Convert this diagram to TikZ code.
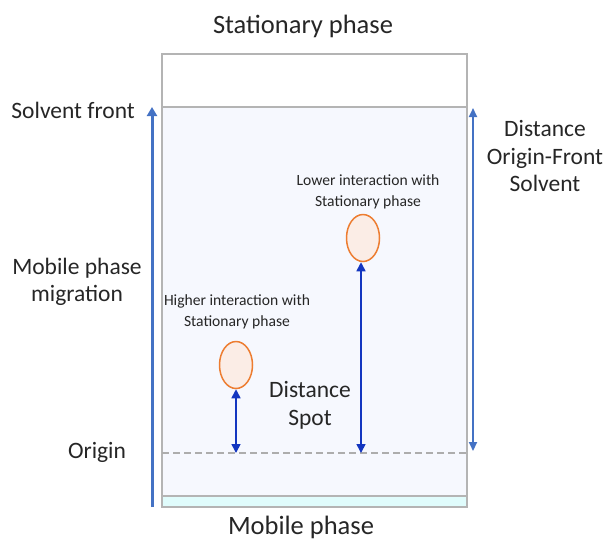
\documentclass[tikz,border=0pt]{standalone}
\usepackage{fontspec}
\setmainfont{Carlito}
\usetikzlibrary{arrows.meta,shapes.geometric}
\definecolor{boxgray}{HTML}{B4B4B4}
\definecolor{dashgray}{HTML}{ADADAD}
\definecolor{paleblue}{HTML}{F6F8FE}
\definecolor{palecyan}{HTML}{E0FCFC}
\definecolor{arrblue}{HTML}{4472C4}
\definecolor{darkblue}{HTML}{1336C0}
\definecolor{spotorange}{HTML}{ED7D31}
\definecolor{spotfill}{HTML}{FBEDE6}
\tikzset{
  biglabel/.style={font=\fontsize{23.5}{27.6}\selectfont, align=center, text=black!85, inner sep=0pt},
  toplabel/.style={font=\fontsize{26.5}{30}\selectfont, align=center, text=black!85, inner sep=0pt},
  smalllabel/.style={font=\fontsize{15.6}{20.5}\selectfont, align=center, text=black!85, inner sep=0pt},
  spot/.style={ellipse, draw=spotorange, fill=spotfill, line width=1.5pt, minimum width=33pt, minimum height=47pt, inner sep=0pt},
  migarrow/.style={draw=arrblue, line width=3pt, -{Triangle[length=9pt,width=10pt]}},
  distarrow/.style={draw=arrblue, line width=2pt, {Triangle[length=9pt,width=8pt]}-{Triangle[length=9pt,width=8pt]}},
  spotarrow/.style={draw=darkblue, line width=1.6pt, {Triangle[length=9pt,width=9pt]}-{Triangle[length=9pt,width=9pt]}}
}
\begin{document}
\begin{tikzpicture}[x=1pt,y=-1pt]
\useasboundingbox (0,0) rectangle (607,542);
% plate
\fill[paleblue] (162,107) rectangle (467,496);
\fill[palecyan] (162,496) rectangle (467,507);
\draw[boxgray, line width=1.3pt] (162,496) -- (467,496);
\draw[boxgray, line width=1.3pt] (162,107) -- (467,107);
\draw[boxgray, line width=1.8pt] (162,54) rectangle (467,507);
% origin line
\coordinate (o1) at (162,453);
\coordinate (o2) at (467,453);
\draw[dashgray, line width=1.3pt, dash pattern=on 7pt off 4pt] (o1) -- (o2);
% labels
\node[toplabel] (stat) at (303,26) {Stationary phase};
\node[toplabel] (mob) at (301,527) {Mobile phase};
\node[biglabel, anchor=east] (front) at (135,110) {Solvent front};
\node[biglabel] (migr) at (77,282) {Mobile phase\\migration};
\node[biglabel] (orig) at (97,452) {Origin};
\node[biglabel] (dofs) at (545,156) {Distance\\Origin-Front\\Solvent};
\node[biglabel] (dspot) at (310,405) {Distance\\Spot};
\node[smalllabel] (hi) at (237,312) {Higher interaction with\\Stationary phase};
\node[smalllabel] (lo) at (368,192) {Lower interaction with\\Stationary phase};
% spots
\node[spot] (s1) at (236,365) {};
\node[spot] (s2) at (363,238) {};
% arrows
\coordinate (mb) at (152,507);
\coordinate (mt) at (152,107);
\draw[migarrow] (mb) -- (mt);
\coordinate (dt) at (473,108);
\coordinate (db) at (473,451);
\draw[distarrow] (dt) -- (db);
\coordinate (a1b) at (236,453);
\coordinate (a2b) at (361,453);
\draw[spotarrow] (a1b) -- (s1.south);
\draw[spotarrow] (a2b) -- (s2.south -| a2b);
\end{tikzpicture}
\end{document}
